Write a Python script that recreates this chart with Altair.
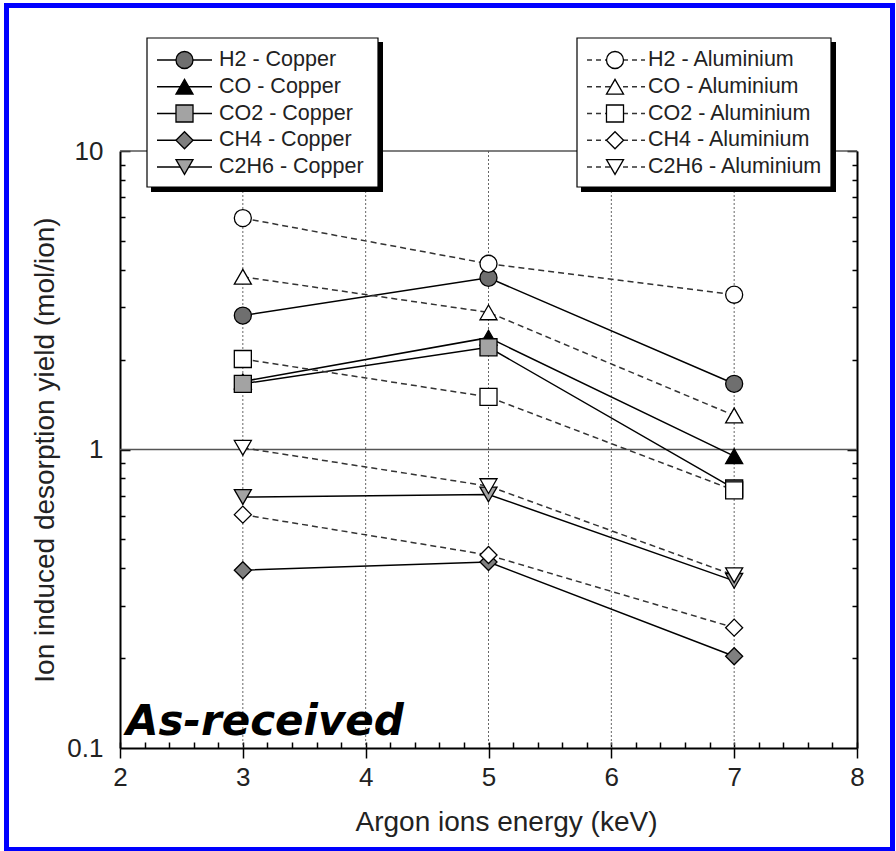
import altair as alt
import pandas as pd

# Argon ion energies (keV) and desorbed gas species
energy = [3, 5, 7]
gases = ["H2", "CO", "CO2", "CH4", "C2H6"]

# Ion induced desorption yields (mol/ion), copper samples
cu_h2 = [2.81, 3.76, 1.66]
cu_co = [1.69, 2.37, 0.95]
cu_co2 = [1.66, 2.20, 0.74]
cu_ch4 = [0.394, 0.42, 0.203]
cu_c2h6 = [0.693, 0.707, 0.363]

# Ion induced desorption yields (mol/ion), aluminium samples
al_h2 = [5.96, 4.19, 3.30]
al_co = [3.79, 2.88, 1.30]
al_co2 = [2.01, 1.50, 0.73]
al_ch4 = [0.605, 0.443, 0.253]
al_c2h6 = [1.013, 0.754, 0.379]

cu_labels = ["H2 - Copper", "CO - Copper", "CO2 - Copper", "CH4 - Copper", "C2H6 - Copper"]
al_labels = ["H2 - Aluminium", "CO - Aluminium", "CO2 - Aluminium",
             "CH4 - Aluminium", "C2H6 - Aluminium"]
legend_rows = [0, 1, 2, 3, 4]

# Axis tick positions
x_major = [2, 3, 4, 5, 6, 7, 8]
x_minor = [2.0, 2.2, 2.4, 2.6, 2.8, 3.0, 3.2, 3.4, 3.6, 3.8, 4.0, 4.2, 4.4, 4.6,
           4.8, 5.0, 5.2, 5.4, 5.6, 5.8, 6.0, 6.2, 6.4, 6.6, 6.8, 7.0, 7.2, 7.4,
           7.6, 7.8, 8.0]
y_major = [0.1, 1, 10]
y_minor = [0.2, 0.3, 0.4, 0.5, 0.6, 0.7, 0.8, 0.9, 2, 3, 4, 5, 6, 7, 8, 9]
x_grid = [3, 4, 5, 6, 7]
y_grid = [1, 10]

FONT = "Liberation Sans"
X_SCALE = alt.Scale(domain=[2, 8], nice=False, zero=False)
Y_SCALE = alt.Scale(type="log", domain=[0.1, 10], nice=False)
SHAPE_SCALE = alt.Scale(domain=gases,
                        range=["circle", "triangle-up", "square", "diamond", "triangle-down"])
FILL_SCALE = alt.Scale(domain=gases,
                       range=["#6f6f6f", "#000000", "#a3a3a3", "#7f7f7f", "#a3a3a3"])
MARK_SIZE = 290


def long_table(series, material):
    rows = []
    for gas, vals in zip(gases, series):
        for e, v in zip(energy, vals):
            rows.append({"x": e, "y": v, "gas": gas, "material": material})
    return pd.DataFrame(rows)


cu_df = long_table([cu_h2, cu_co, cu_co2, cu_ch4, cu_c2h6], "Copper")
al_df = long_table([al_h2, al_co, al_co2, al_ch4, al_c2h6], "Aluminium")
anchor_df = pd.DataFrame({"x": [2], "y": [1]})
one_row = pd.DataFrame({"k": [0]})


def axis_layer(x_axis=None, y_axis=None):
    return alt.Chart(anchor_df).mark_point(opacity=0).encode(
        x=alt.X("x:Q", scale=X_SCALE, axis=x_axis),
        y=alt.Y("y:Q", scale=Y_SCALE, axis=y_axis),
    )


# Gridlines
vgrid = alt.Chart(pd.DataFrame({"x": x_grid})).mark_rule(
    color="#666666", strokeDash=[2, 2], strokeWidth=1
).encode(x=alt.X("x:Q", scale=X_SCALE, axis=None))

hgrid = alt.Chart(pd.DataFrame({"y": y_grid})).mark_rule(
    color="#555555", strokeWidth=1.5
).encode(y=alt.Y("y:Q", scale=Y_SCALE, axis=None))

# Main axes
x_axis_main = alt.Axis(
    orient="bottom", values=x_major, format="d", title="Argon ions energy (keV)",
    domainWidth=2, tickWidth=1.5, tickSize=10, labelFontSize=26, labelPadding=6,
    labelFlush=False, labelOverlap=False, titleFontSize=28, titleX=386, titleY=82,
    titleBaseline="alphabetic", titleAlign="center",
)
y_axis_main = alt.Axis(
    orient="left", values=y_major, format="~g",
    title="Ion induced desorption yield (mol/ion)",
    domainWidth=2, ticks=False, labelFontSize=26, labelPadding=17,
    labelFlush=False, labelOverlap=False, titleFontSize=28, titleX=-75, titleY=298.5,
    titleAngle=270, titleAlign="center", titleBaseline="middle",
)

cu_lines = alt.Chart(cu_df).mark_line(color="black", strokeWidth=1.5).encode(
    x=alt.X("x:Q", scale=X_SCALE, axis=x_axis_main),
    y=alt.Y("y:Q", scale=Y_SCALE, axis=y_axis_main),
    detail="gas:N",
)
al_lines = alt.Chart(al_df).mark_line(color="#333333", strokeWidth=1.5,
                                      strokeDash=[6, 4]).encode(
    x=alt.X("x:Q", scale=X_SCALE, axis=None),
    y=alt.Y("y:Q", scale=Y_SCALE, axis=None),
    detail="gas:N",
)
cu_pts = alt.Chart(cu_df).mark_point(
    filled=True, size=MARK_SIZE, stroke="black", strokeWidth=1.3, opacity=1
).encode(
    x=alt.X("x:Q", scale=X_SCALE, axis=None),
    y=alt.Y("y:Q", scale=Y_SCALE, axis=None),
    shape=alt.Shape("gas:N", scale=SHAPE_SCALE, legend=None),
    fill=alt.Fill("gas:N", scale=FILL_SCALE, legend=None),
)
al_pts = alt.Chart(al_df).mark_point(
    filled=True, fill="white", size=MARK_SIZE, stroke="black", strokeWidth=1.3, opacity=1
).encode(
    x=alt.X("x:Q", scale=X_SCALE, axis=None),
    y=alt.Y("y:Q", scale=Y_SCALE, axis=None),
    shape=alt.Shape("gas:N", scale=SHAPE_SCALE, legend=None),
)

# Inward ticks and the right-hand frame
x_in = axis_layer(x_axis=alt.Axis(orient="bottom", offset=-6, values=x_minor, tickSize=6,
                                  tickWidth=1.5, domain=False, labels=False, title=None))
y_minor_l = axis_layer(y_axis=alt.Axis(orient="left", offset=-5, values=y_minor, tickSize=5,
                                       tickWidth=1.5, domain=False, labels=False, title=None))
y_major_l = axis_layer(y_axis=alt.Axis(orient="left", offset=-10, values=[1, 10], tickSize=10,
                                       tickWidth=1.5, domain=False, labels=False, title=None))
y_frame_r = axis_layer(y_axis=alt.Axis(orient="right", domainWidth=2, ticks=False,
                                       labels=False, title=None))
y_minor_r = axis_layer(y_axis=alt.Axis(orient="right", offset=-5, values=y_minor, tickSize=5,
                                       tickWidth=1.5, domain=False, labels=False, title=None))
y_major_r = axis_layer(y_axis=alt.Axis(orient="right", offset=-10, values=[1, 10], tickSize=10,
                                       tickWidth=1.5, domain=False, labels=False, title=None))


# Legend boxes drawn as marks
def legend(labels, x0, x1, line_x0, line_x1, mark_x, text_x, dashed, filled):
    shadow = alt.Chart(one_row).mark_rect(fill="black").encode(
        x=alt.value(x0 + 4), x2=alt.value(x1 + 5), y=alt.value(-109), y2=alt.value(41))
    box = alt.Chart(one_row).mark_rect(fill="white", stroke="black", strokeWidth=1.2).encode(
        x=alt.value(x0), x2=alt.value(x1), y=alt.value(-113), y2=alt.value(36))
    df = pd.DataFrame({"row": legend_rows, "gas": gases, "label": labels})
    ly = alt.Y("row:Q", scale=alt.Scale(domain=[0, 4], range=[-91, 16]), axis=None)
    line_kw = {"color": "#333333", "strokeDash": [5, 4]} if dashed else {"color": "black"}
    seg = alt.Chart(df).mark_rule(strokeWidth=1.5, **line_kw).encode(
        x=alt.value(line_x0), x2=alt.value(line_x1), y=ly)
    if filled:
        pts = alt.Chart(df).mark_point(filled=True, size=MARK_SIZE, stroke="black",
                                       strokeWidth=1.3, opacity=1).encode(
            x=alt.value(mark_x), y=ly,
            shape=alt.Shape("gas:N", scale=SHAPE_SCALE, legend=None),
            fill=alt.Fill("gas:N", scale=FILL_SCALE, legend=None))
    else:
        pts = alt.Chart(df).mark_point(filled=True, fill="white", size=MARK_SIZE, stroke="black",
                                       strokeWidth=1.3, opacity=1).encode(
            x=alt.value(mark_x), y=ly,
            shape=alt.Shape("gas:N", scale=SHAPE_SCALE, legend=None))
    txt = alt.Chart(df).mark_text(align="left", baseline="middle", font=FONT,
                                  fontSize=21.5, color="#222222").encode(
        x=alt.value(text_x), y=ly, text="label:N")
    return [shadow, box, seg, pts, txt]


cu_legend = legend(cu_labels, 27, 258, 37, 92, 64.5, 99, dashed=False, filled=True)
al_legend = legend(al_labels, 457, 711, 467, 525, 495, 528, dashed=True, filled=False)

note = alt.Chart(one_row).mark_text(
    text="As-received", align="left", baseline="alphabetic", font="DejaVu Sans",
    fontSize=42, fontStyle="italic", fontWeight="bold", color="black",
).encode(x=alt.value(6), y=alt.value(584))

frame = alt.Chart(one_row).mark_rect(fillOpacity=0, stroke="#0000ff", strokeWidth=5).encode(
    x=alt.value(-113.5), x2=alt.value(772.5), y=alt.value(-145.5), y2=alt.value(698.5))

chart = alt.layer(
    vgrid, hgrid, x_in, y_minor_l, y_major_l, y_frame_r, y_minor_r, y_major_r,
    cu_lines, al_lines, cu_pts, al_pts, *cu_legend, *al_legend, note, frame,
).resolve_scale(
    x="independent", y="independent"
).resolve_axis(
    x="independent", y="independent"
).properties(
    width=737, height=597,
    padding={"left": 120, "top": 151, "right": 39, "bottom": 103},
    autosize=alt.AutoSizeParams(type="none"),
    background="white",
).configure_axis(
    labelFont=FONT, titleFont=FONT, labelColor="#222222", titleColor="#222222",
    titleFontWeight="normal", domainColor="black", tickColor="black", grid=False,
).configure_view(stroke=None)

chart.save("out.html", embed_options={"renderer": "svg", "actions": False})
